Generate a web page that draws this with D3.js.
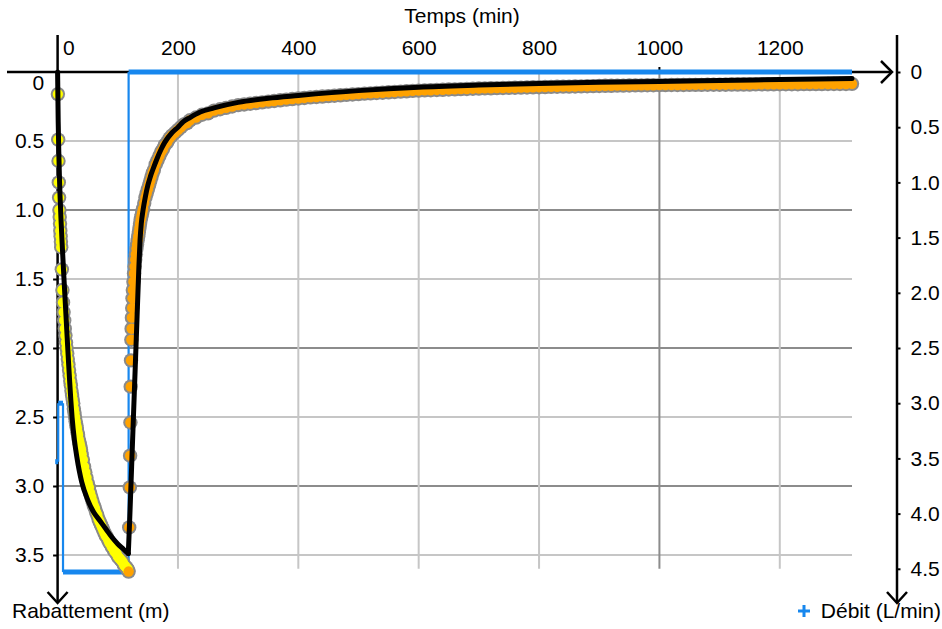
<!DOCTYPE html>
<html><head><meta charset="utf-8">
<script src="https://cdn.jsdelivr.net/npm/d3@7"></script>
<style>body{margin:0;background:#fff}svg{display:block}</style>
</head><body><svg id="c" width="942" height="629"></svg>
<script>
// ---------- DATA ----------
const timeTicks = [0, 200, 400, 600, 800, 1000, 1200];
const drawdownTicks = [0, 0.5, 1.0, 1.5, 2.0, 2.5, 3.0, 3.5];
const flowTicks = [0, 0.5, 1.0, 1.5, 2.0, 2.5, 3.0, 3.5, 4.0, 4.5];

// pumping phase (time min, drawdown m)
const pumping = [
 [0.5,0.16],[1,0.49],[1.5,0.645],[2,0.80],[2.5,0.91],[3,1.00],[3.5,1.05],[4,1.10],[4.5,1.15],[5,1.19],[5.5,1.23],[6,1.27],
 [7,1.43],[8,1.58],[9,1.67],[10,1.74],[11,1.80],[12,1.86],[13,1.91],[14,1.96],[15,2.00],[16,2.04],[17,2.08],[18,2.12],
 [19,2.16],[20,2.20],[21,2.24],[22,2.27],[23,2.31],[24,2.34],[25,2.37],[26,2.40],[27,2.44],[28,2.47],[29,2.50],[30,2.53],
 [31,2.56],[32,2.58],[33,2.61],[34,2.63],[35,2.66],[36,2.68],[37,2.70],[38,2.72],[39,2.74],[40,2.77],
 [42,2.81],[44,2.86],[46,2.90],[48,2.94],[50,2.98],[52,3.01],[54,3.05],[56,3.08],[58,3.11],[60,3.14],[62,3.16],[64,3.19],
 [66,3.21],[68,3.24],[70,3.26],[72,3.28],[74,3.30],[76,3.32],[78,3.34],[80,3.36],[82,3.37],[84,3.39],[86,3.41],[88,3.42],
 [90,3.44],[92,3.45],[94,3.47],[96,3.48],[98,3.49],[100,3.51],[102,3.52],[104,3.53],[106,3.54],[108,3.55],[110,3.57],
 [112,3.58],[114,3.59],[116,3.60],[117,3.61]
];

// recovery phase (time min, residual drawdown m)
const recovery = [
 [118,3.62],[119,3.30],[120,3.01],[120.5,2.78],[121,2.54],[121.5,2.28],[122,2.09],[122.5,1.94],[123,1.86],[123.5,1.78],
 [124,1.71],[124.5,1.64],[125,1.58],[126,1.52],[127,1.46],[128,1.41],[129,1.36],[130,1.32],[131,1.28],[132,1.25],
 [133,1.22],[134,1.19],[135,1.16],[136,1.13],[137,1.10],[138,1.07],[139,1.05],[140,1.03],[141,1.01],[142,0.99],
 [144,0.95],[146,0.91],[148,0.88],[150,0.85],[152,0.82],[154,0.79],[156,0.76],[158,0.73],[160,0.71],[163,0.67],
 [166,0.64],[169,0.61],[172,0.58],[175,0.56],[178,0.53],[182,0.51],[186,0.48],[190,0.46],[195,0.44],[200,0.42],
 [205,0.40],[210,0.38],[215,0.37],[220,0.35],[230,0.33],[240,0.31],[250,0.30],[260,0.28],[270,0.27],[280,0.26],
 [290,0.25],[300,0.24],
 [310,.235],[320,.23],[330,.225],[340,.22],[350,.215],[360,.21],[370,.205],[380,.20],[390,.196],[400,.192],
 [410,.188],[420,.184],[430,.181],[440,.178],[450,.175],[460,.172],[470,.169],[480,.166],[490,.163],[500,.160],
 [510,.157],[520,.155],[530,.152],[540,.150],[550,.147],[560,.145],[570,.142],[580,.140],[590,.137],[600,.135],
 [610,.133],[620,.132],[630,.130],[640,.129],[650,.127],[660,.126],[670,.124],[680,.123],[690,.121],[700,.120],
 [710,.119],[720,.118],[730,.117],[740,.116],[750,.115],[760,.114],[770,.113],[780,.112],[790,.111],[800,.110],
 [810,.109],[820,.108],[830,.107],[840,.106],[850,.106],[860,.105],[870,.104],[880,.103],[890,.102],[900,.101],
 [910,.100],[920,.100],[930,.099],[940,.099],[950,.098],[960,.097],[970,.097],[980,.096],[990,.096],[1000,.095],
 [1010,.095],[1020,.094],[1030,.094],[1040,.094],[1050,.093],[1060,.093],[1070,.093],[1080,.092],[1090,.092],[1100,.092],
 [1110,.092],[1120,.091],[1130,.091],[1140,.091],[1150,.091],[1160,.090],[1170,.090],[1180,.090],[1190,.090],[1200,.089],
 [1210,.089],[1220,.089],[1230,.089],[1240,.088],[1250,.088],[1260,.088],[1270,.088],[1280,.087],[1290,.087],[1300,.087],
 [1310,.087],[1320,.086]
];

// fitted model (black line)
const fitPumping = [
 [0,0],[1,0.36],[2,0.58],[3,0.75],[4,0.89],[6,1.10],[8,1.28],[10,1.45],[12,1.61],[14,1.77],[16,1.93],[18,2.09],
 [20,2.24],[22,2.38],[24,2.50],[28,2.67],[32,2.79],[36,2.89],[40,2.97],[50,3.10],[60,3.19],[70,3.25],[80,3.31],
 [90,3.37],[100,3.42],[110,3.46],[117.5,3.49]
];
const fitRecovery = [
 [117.5,3.49],[120,3.22],[123,2.86],[126,2.50],[129,2.14],[132,1.78],[135,1.42],[137,1.22],[139,1.10],[142,1.00],
 [146,0.90],[150,0.82],[154,0.76],[158,0.71],[165,0.63],[172,0.56],[178,0.51],[190,0.44],[200,0.40],[209,0.36],
 [220,0.33],[237,0.29],[260,0.26],[300,0.22],[350,0.19],[400,0.17],[500,0.135],[600,0.11],[700,0.095],[800,0.083],
 [900,0.075],[1000,0.068],[1100,0.061],[1200,0.055],[1320,0.048]
];

// flow rate steps (time min, L/min)
const flowTime = [-4, 1, 9, 118, 1320];
const flowRate = [3.53, 3.0, 4.53, 0, 0];

// ---------- CHART ----------
const svg = d3.select("#c");
const FONT = "'Liberation Sans', Arial, Helvetica, sans-serif";
const FS = 21;
const BLUE = "#1787ee";

const x = d3.scaleLinear().domain([0, 1320]).range([57.6, 852]);
const yL = d3.scaleLinear().domain([0, 3.6]).range([72, 568.8]);
const yR = d3.scaleLinear().domain([0, 4.5]).range([72, 568.8]);

// grid
const grid = svg.append("g");
grid.selectAll("line.h").data(drawdownTicks.filter(d => d > 0)).join("line")
  .attr("x1", x(0)).attr("x2", x(1320))
  .attr("y1", d => yL(d)).attr("y2", d => yL(d))
  .attr("stroke", d => Number.isInteger(d) ? "#8c8c8c" : "#c6c6c6").attr("stroke-width", 2);
grid.selectAll("line.v").data(timeTicks.filter(d => d > 0)).join("line")
  .attr("x1", d => x(d)).attr("x2", d => x(d))
  .attr("y1", yL(0)).attr("y2", yL(3.6))
  .attr("stroke", d => d % 1000 === 0 ? "#8c8c8c" : "#c6c6c6").attr("stroke-width", 2);

// axis lines with arrows
const ax = svg.append("g").attr("stroke", "#000").attr("stroke-width", 2.5).attr("fill", "none");
ax.append("line").attr("x1", 7).attr("x2", 892).attr("y1", yL(0)).attr("y2", yL(0));
ax.append("path").attr("d", `M881,${yL(0)-11} L892,${yL(0)} L881,${yL(0)+11}`);
ax.append("line").attr("x1", x(0)).attr("x2", x(0)).attr("y1", 35).attr("y2", 603);
ax.append("path").attr("d", `M${x(0)-10},592 L${x(0)},603 L${x(0)+10},592`);
ax.append("line").attr("x1", 897).attr("x2", 897).attr("y1", 35).attr("y2", 603);
ax.append("path").attr("d", `M887,592 L897,603 L907,592`);
ax.append("line").attr("x1", x(1000)).attr("x2", x(1000)).attr("y1", yL(0)-5).attr("y2", yL(0)).attr("stroke-width", 2);

// top axis labels
const fmt = d => d === 0 ? "0" : d3.format(".1f")(d);
const gTop = svg.append("g").attr("transform", `translate(0,${yL(0)})`)
  .call(d3.axisTop(x).tickValues(timeTicks).tickSize(0).tickPadding(17.5).tickFormat(d3.format("d")));
gTop.select(".domain").remove();
gTop.selectAll("text").attr("font-size", FS).attr("font-family", FONT).attr("fill", "#000");
gTop.selectAll(".tick").filter(d => d === 0).select("text").attr("text-anchor", "start").attr("x", 5);

// left axis
const gL = svg.append("g").attr("transform", `translate(${x(0)},0)`)
  .call(d3.axisLeft(yL).tickValues(drawdownTicks).tickSize(4.5).tickPadding(9).tickFormat(fmt));
gL.select(".domain").remove();
gL.selectAll("line").attr("stroke", "#000").attr("stroke-width", 2);
gL.selectAll("text").attr("font-size", FS).attr("font-family", FONT).attr("fill", "#000");
gL.selectAll(".tick").filter(d => d === 0).select("line").remove();
gL.selectAll(".tick").filter(d => d === 0).select("text").attr("dy", "0.32em").attr("y", 11);

// right axis
const gR = svg.append("g").attr("transform", `translate(897,0)`)
  .call(d3.axisRight(yR).tickValues(flowTicks).tickSize(3.5).tickPadding(10).tickFormat(fmt));
gR.select(".domain").remove();
gR.selectAll("line").attr("stroke", "#000").attr("stroke-width", 2);
gR.selectAll("text").attr("font-size", FS).attr("font-family", FONT).attr("fill", "#000");

// flow step line
const flowPairs = d3.pairs(flowTime.map((t, i) => [t, flowRate[i]]));
const gF = svg.append("g").attr("stroke", BLUE).attr("fill", "none");
gF.selectAll("line.hz").data(flowPairs).join("line")
  .attr("x1", d => x(d[0][0])).attr("x2", d => x(d[1][0]))
  .attr("y1", d => yR(d[0][1])).attr("y2", d => yR(d[0][1]))
  .attr("stroke-width", 5);
gF.selectAll("line.vt").data(flowPairs).join("line")
  .attr("x1", d => x(d[1][0])).attr("x2", d => x(d[1][0]))
  .attr("y1", d => yR(d[0][1])).attr("y2", d => yR(d[1][1]))
  .attr("stroke-width", 2.2);

// observation points: outline pass then fill pass
const gP = svg.append("g");
const allPts = pumping.map(d => ({d, c: "#ffff00"})).concat(recovery.map(d => ({d, c: "#ffa200"})));
gP.selectAll("circle.o").data(allPts).join("circle")
  .attr("cx", p => x(p.d[0])).attr("cy", p => yL(p.d[1])).attr("r", 7.2).attr("fill", "#8a8a8a");
gP.selectAll("circle.f").data(pumping).join("circle")
  .attr("cx", d => x(d[0])).attr("cy", d => yL(d[1])).attr("r", 5.2).attr("fill", "#ffff00");
gP.selectAll("circle.g").data(recovery).join("circle")
  .attr("cx", d => x(d[0])).attr("cy", d => yL(d[1])).attr("r", 5.2).attr("fill", "#ffa200");

// fitted line
const line = d3.line().x(d => x(d[0])).y(d => yL(d[1])).curve(d3.curveMonotoneX);
[fitPumping, fitRecovery].forEach(arr => {
  svg.append("path").attr("d", line(arr)).attr("fill", "none").attr("stroke", "#000")
    .attr("stroke-width", 5).attr("stroke-linecap", "round").attr("stroke-linejoin", "round");
});

// titles
svg.append("text").attr("x", 462).attr("y", 23).attr("text-anchor", "middle")
  .attr("font-size", FS).attr("font-family", FONT).text("Temps (min)");
svg.append("text").attr("x", 12).attr("y", 618).attr("font-size", FS).attr("font-family", FONT).text("Rabattement (m)");
svg.append("text").attr("x", 941).attr("y", 618).attr("text-anchor", "end")
  .attr("font-size", FS).attr("font-family", FONT).text("Débit (L/min)");
svg.append("path").attr("d", "M798,611 L810,611 M804,605 L804,617").attr("stroke", BLUE).attr("stroke-width", 3);
</script></body></html>
